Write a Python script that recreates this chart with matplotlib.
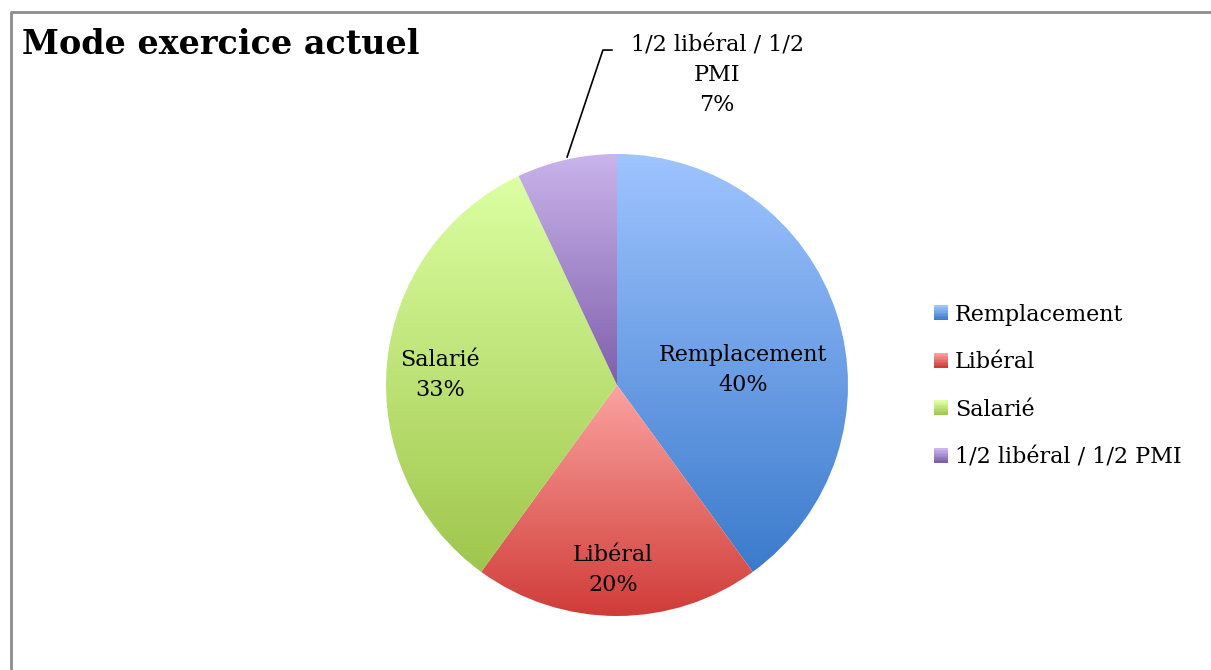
import numpy as np
import matplotlib
matplotlib.use("Agg")
import matplotlib.pyplot as plt
from matplotlib.colors import LinearSegmentedColormap
from matplotlib.legend_handler import HandlerBase
from matplotlib.patches import Rectangle
from matplotlib.lines import Line2D

categories = ['Remplacement', 'Libéral', 'Salarié', '1/2 libéral / 1/2 PMI']
values = [40, 20, 33, 7]
pie_labels = ['Remplacement\n40%', 'Libéral\n20%', 'Salarié\n33%', '1/2 libéral / 1/2\nPMI\n7%']
# (top colour, bottom colour) of each slice gradient
gradients = [('#9fc4ff', '#3b7bcc'),
             ('#fba3a0', '#d03c38'),
             ('#dcffa2', '#9fc64c'),
             ('#cab4ec', '#7f5fab')]
label_pos = [(0.545, 0.065), (-0.017, -0.80), (-0.766, 0.043), (0.433, 1.342)]

plt.rcParams['font.family'] = ['DejaVu Serif']

W, H = 1211, 670
fig = plt.figure(figsize=(W / 100, H / 100), dpi=100)
ax = fig.add_axes([0, 0, 1, 1])

wedges, _ = ax.pie(values, startangle=90, counterclock=False, radius=1,
                   wedgeprops=dict(linewidth=0))

for w, (c1, c2) in zip(wedges, gradients):
    ext = w.get_path().get_extents()
    cmap = LinearSegmentedColormap.from_list('g', [c2, c1])
    grad = np.linspace(0, 1, 256).reshape(-1, 1)
    im = ax.imshow(grad, cmap=cmap, origin='lower', aspect='auto',
                   extent=(ext.x0, ext.x1, ext.y0, ext.y1), zorder=2,
                   interpolation='bilinear')
    im.set_clip_path(w)
    w.set_facecolor('none')

for txt, (x, y) in zip(pie_labels[:3], label_pos[:3]):
    ax.text(x, y, txt, ha='center', va='center', fontsize=16,
            linespacing=1.45, zorder=5)

# outside label with leader line
x, y = label_pos[3]
ax.text(x, y, pie_labels[3], ha='center', va='center', fontsize=16,
        linespacing=1.45, zorder=5)
ax.plot([-0.216, -0.061, -0.022], [0.987, 1.45, 1.45], color='black',
        lw=1.2, zorder=5)

s = 231.0
ax.set_xlim(-617 / s, (W - 617) / s)
ax.set_ylim(-(H - 385) / s, 385 / s)
ax.set_aspect('auto')
ax.axis('off')


class GradientHandler(HandlerBase):
    def __init__(self, c1, c2):
        super().__init__()
        self.c1, self.c2 = c1, c2

    def create_artists(self, legend, orig_handle, xdescent, ydescent,
                       width, height, fontsize, trans):
        cmap = LinearSegmentedColormap.from_list('g', [self.c2, self.c1])
        n = 10
        side = height * 1.0
        x0 = width - side
        arts = []
        for i in range(n):
            r = Rectangle((x0 - xdescent, -ydescent + side * i / n), side, side / n + 0.3,
                          facecolor=cmap(i / (n - 1)), edgecolor='none',
                          transform=trans)
            arts.append(r)
        return arts


handles = [Line2D([], []) for _ in categories]
hmap = {h: GradientHandler(*g) for h, g in zip(handles, gradients)}
fig.legend(handles, categories, handler_map=hmap, loc='center left',
           bbox_to_anchor=(925 / W, 1 - 386 / H), frameon=False,
           fontsize=16, handlelength=0.65, handleheight=0.65,
           handletextpad=0.3, labelspacing=1.15, borderaxespad=0)

fig.text(22 / W, 1 - 44 / H, 'Mode exercice actuel', fontsize=24,
         fontweight='bold', va='center', ha='left')

# chart area border (only top/left visible in the crop)
fig.add_artist(Line2D([11 / W, 11 / W, 1.0], [0, 1 - 12 / H, 1 - 12 / H],
                      transform=fig.transFigure, color='#8c8c8c', lw=2))

fig.savefig('out.png', dpi=100, facecolor='white')
